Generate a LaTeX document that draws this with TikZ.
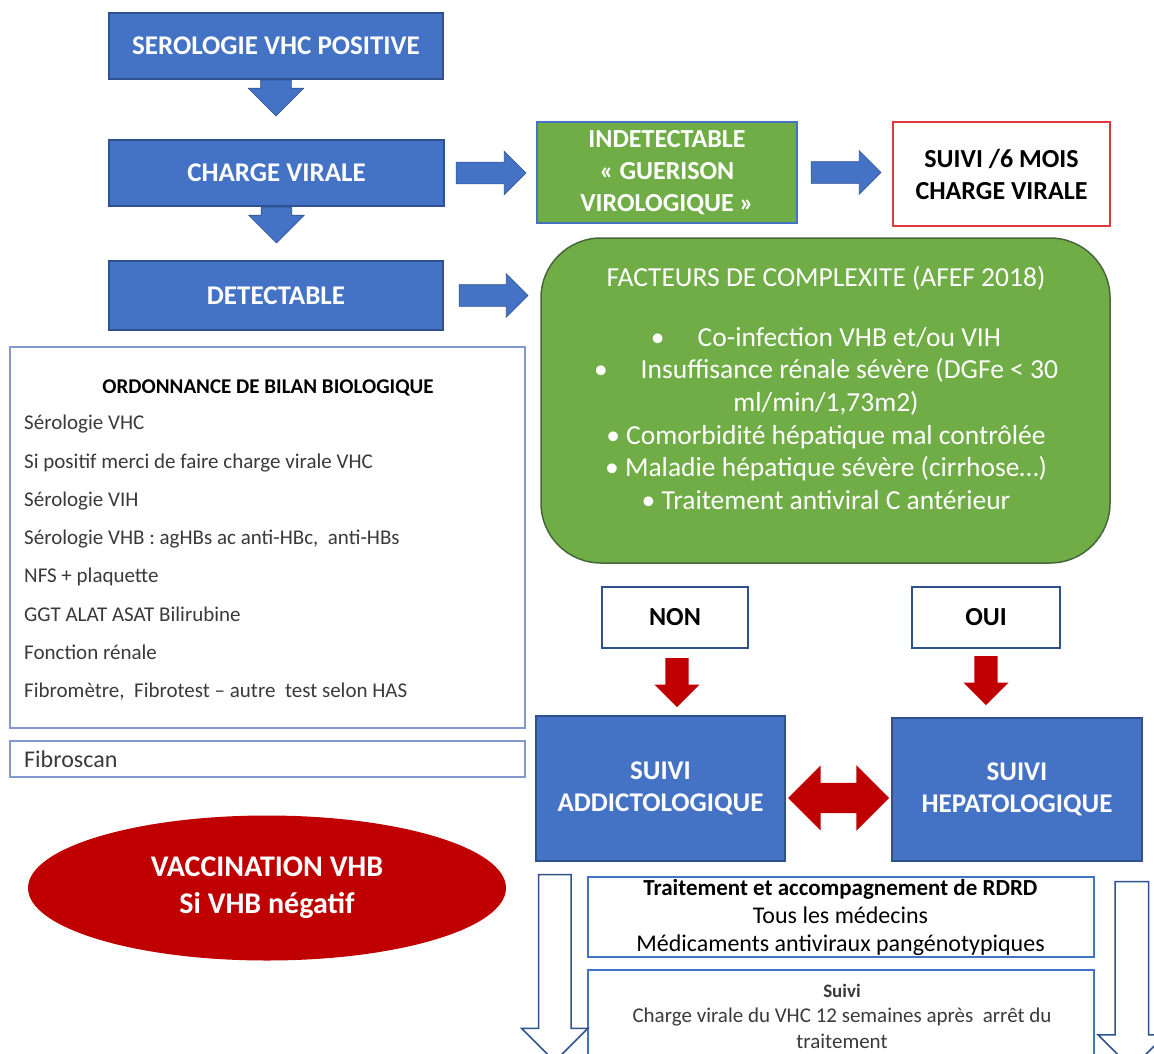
\documentclass[tikz,border=0pt]{standalone}
\usepackage{fontspec}
\setmainfont{Carlito}
\usepackage{tikz}
\usetikzlibrary{shapes.arrows,shapes.geometric,positioning,calc}
\definecolor{cBlue}{HTML}{4472C4}
\definecolor{cBlueLine}{HTML}{2F528F}
\definecolor{cGreen}{HTML}{70AD47}
\definecolor{cGreenLine}{HTML}{46673A}
\definecolor{cRed}{HTML}{C00000}
\definecolor{cRedLine}{HTML}{E03A3A}
\definecolor{cPale}{HTML}{8199CC}
\definecolor{cInk}{HTML}{3A3A3A}
\newcommand{\fsz}[2]{\fontsize{#1}{#2}\selectfont}
\tikzset{
  box/.style={inner sep=0pt,align=center,line width=1.5pt},
  bluebox/.style={box,draw=cBlueLine,fill=cBlue,text=white,font=\fsz{27}{32}\bfseries},
  greenbox/.style={box,fill=cGreen,text=white},
  outbox/.style={box,draw=cBlueLine,fill=white,text=black},
  palebox/.style={box,draw=cPale,line width=2pt,fill=white},
  blockarr/.style n args={3}{single arrow,single arrow head indent=0pt,anchor=tail,
    inner xsep=0pt,minimum height=#1,inner ysep=#2,single arrow head extend=#3},
  bluearr/.style={fill=cBlue,draw=cBlueLine,line width=0.6pt},
  redarr/.style={fill=cRed},
  hollowarr/.style={fill=white,draw=cBlueLine,line width=1.5pt}
}

\begin{document}
\begin{tikzpicture}[x=1pt,y=-1pt]
  \useasboundingbox (0,0) rectangle (1154,1054);
  \node[bluebox,minimum width=334,minimum height=66] (sero) at (276,46) {SEROLOGIE VHC POSITIVE};
  \node[bluebox,minimum width=335,minimum height=66] (charge) at (276.5,173) {CHARGE VIRALE};
  \node[bluebox,minimum width=334,minimum height=69] (detect) at (276,295.5) {DETECTABLE};
  \node[greenbox,draw=cBlue,font=\fsz{26}{32}\bfseries,minimum width=260,minimum height=101] (indet) at (667,172.5)
    {INDETECTABLE\\« GUERISON\\VIROLOGIQUE »};
  \node[box,draw=cRedLine,fill=white,font=\fsz{26}{32}\bfseries,minimum width=217,minimum height=104] (suivi6) at (1001.5,174)
    {SUIVI /6 MOIS\\CHARGE VIRALE};
  \node[greenbox,draw=cGreenLine,rounded corners=60pt,minimum width=569,minimum height=325] (facteurs) at (825.5,400.5) {};
  \node[text=white,align=center,font=\fsz{27.5}{32.6}] (facttxt) at (826,388)
    {FACTEURS DE COMPLEXITE (AFEF 2018)\\[27pt]
     •\hspace{1.2em}Co-infection VHB et/ou VIH\\
     •\hspace{1.2em}Insuffisance rénale sévère (DGFe < 30\\
     ml/min/1,73m2)\\
     • Comorbidité hépatique mal contrôlée\\
     • Maladie hépatique sévère (cirrhose…)\\
     • Traitement antiviral C antérieur};
  \node[palebox,minimum width=515,minimum height=381] (ordo) at (267.5,537.5) {};
  \node[font=\fsz{21}{24}\bfseries] (ordotitle) at (268,388) {ORDONNANCE DE BILAN BIOLOGIQUE};
  \node[anchor=north west,align=left,inner sep=0pt,text=cInk,font=\fsz{21}{38.3}] (ordotxt) at (24,415)
    {Sérologie VHC\\
     Si positif merci de faire charge virale VHC\\
     Sérologie VIH\\
     Sérologie VHB : agHBs ac anti-HBc,\ \ anti-HBs\\
     NFS + plaquette\\
     GGT ALAT ASAT Bilirubine\\
     Fonction rénale\\
     Fibromètre,\ \ Fibrotest – autre\ \ test selon HAS};
  \node[palebox,minimum width=515,minimum height=36] (fibro) at (267.5,759) {};
  \node[anchor=west,inner sep=0pt,text=cInk,font=\fsz{24}{28}] (fibrotxt) at (24,759) {Fibroscan};
  \node[outbox,line width=2pt,font=\fsz{26}{32}\bfseries,minimum width=146,minimum height=61] (non) at (675,617.5) {NON};
  \node[outbox,line width=2pt,font=\fsz{26}{32}\bfseries,minimum width=148,minimum height=61] (oui) at (986,617.5) {OUI};
  \node[bluebox,minimum width=249,minimum height=145] (addicto) at (660.5,788.5) {SUIVI\\ADDICTOLOGIQUE};
  \node[bluebox,minimum width=250,minimum height=143] (hepato) at (1017,789.5) {SUIVI\\HEPATOLOGIQUE};
  \node[ellipse,fill=cRed,text=white,align=center,inner sep=0pt,font=\fsz{30}{37}\bfseries,
    minimum width=478,minimum height=145] (vacc) at (267,888) {VACCINATION VHB\\Si VHB négatif};
  \node[outbox,draw=cBlue,line width=2pt,minimum width=506,minimum height=80] (trait) at (840.5,917) {};
  \node[align=center,font=\fsz{24}{28}] (traittxt) at (840.5,917)
    {{\fsz{23}{28}\bfseries Traitement et accompagnement de RDRD}\\Tous les médecins\\Médicaments antiviraux pangénotypiques};
  \node[outbox,draw=cBlue,line width=2pt,minimum width=506,minimum height=100] (suivib) at (840.5,1020) {};
  \node[align=center,text=cInk,font=\fsz{21}{25.5}] (suivitxt) at (842,1016)
    {{\fsz{19}{25.5}\bfseries Suivi}\\Charge virale du VHC 12 semaines après\ \ arrêt du\\traitement};
  \node[blockarr={36}{15}{12.5},bluearr,rotate=-90] (a1) at (sero.south) {};
  \node[blockarr={36}{15}{12.5},bluearr,rotate=-90] (a2) at (charge.south) {};
  \node[blockarr={70}{10.5}{11},bluearr] (a3) at ($(charge.east)+(11,0)$) {};
  \node[blockarr={70}{10.5}{11},bluearr] (a4) at ($(indet.east)+(13,0)$) {};
  \node[blockarr={69}{10.5}{11},bluearr] (a5) at ($(detect.east)+(15,0)$) {};
  \node[blockarr={49}{11.5}{11},redarr,rotate=-90] (a6) at ($(non.south)+(2,9)$) {};
  \node[blockarr={49}{11.5}{11},redarr,rotate=-90] (a7) at ($(oui.south)+(0,7)$) {};
  \node[double arrow,double arrow head indent=0pt,redarr,inner xsep=0pt,inner ysep=15,
    double arrow head extend=17.5,minimum height=101] (a8) at ($($(addicto.east)!0.5!(hepato.west)$)+(0,9)$) {};
  \node[blockarr={187}{15.5}{17},hollowarr,rotate=-90] (a9) at ($(addicto.south west)+(19.5,12)$) {};
  \node[blockarr={187}{16}{17},hollowarr,rotate=-90] (a10) at ($(hepato.south east)+(-11,19)$) {};
\end{tikzpicture}
\end{document}
